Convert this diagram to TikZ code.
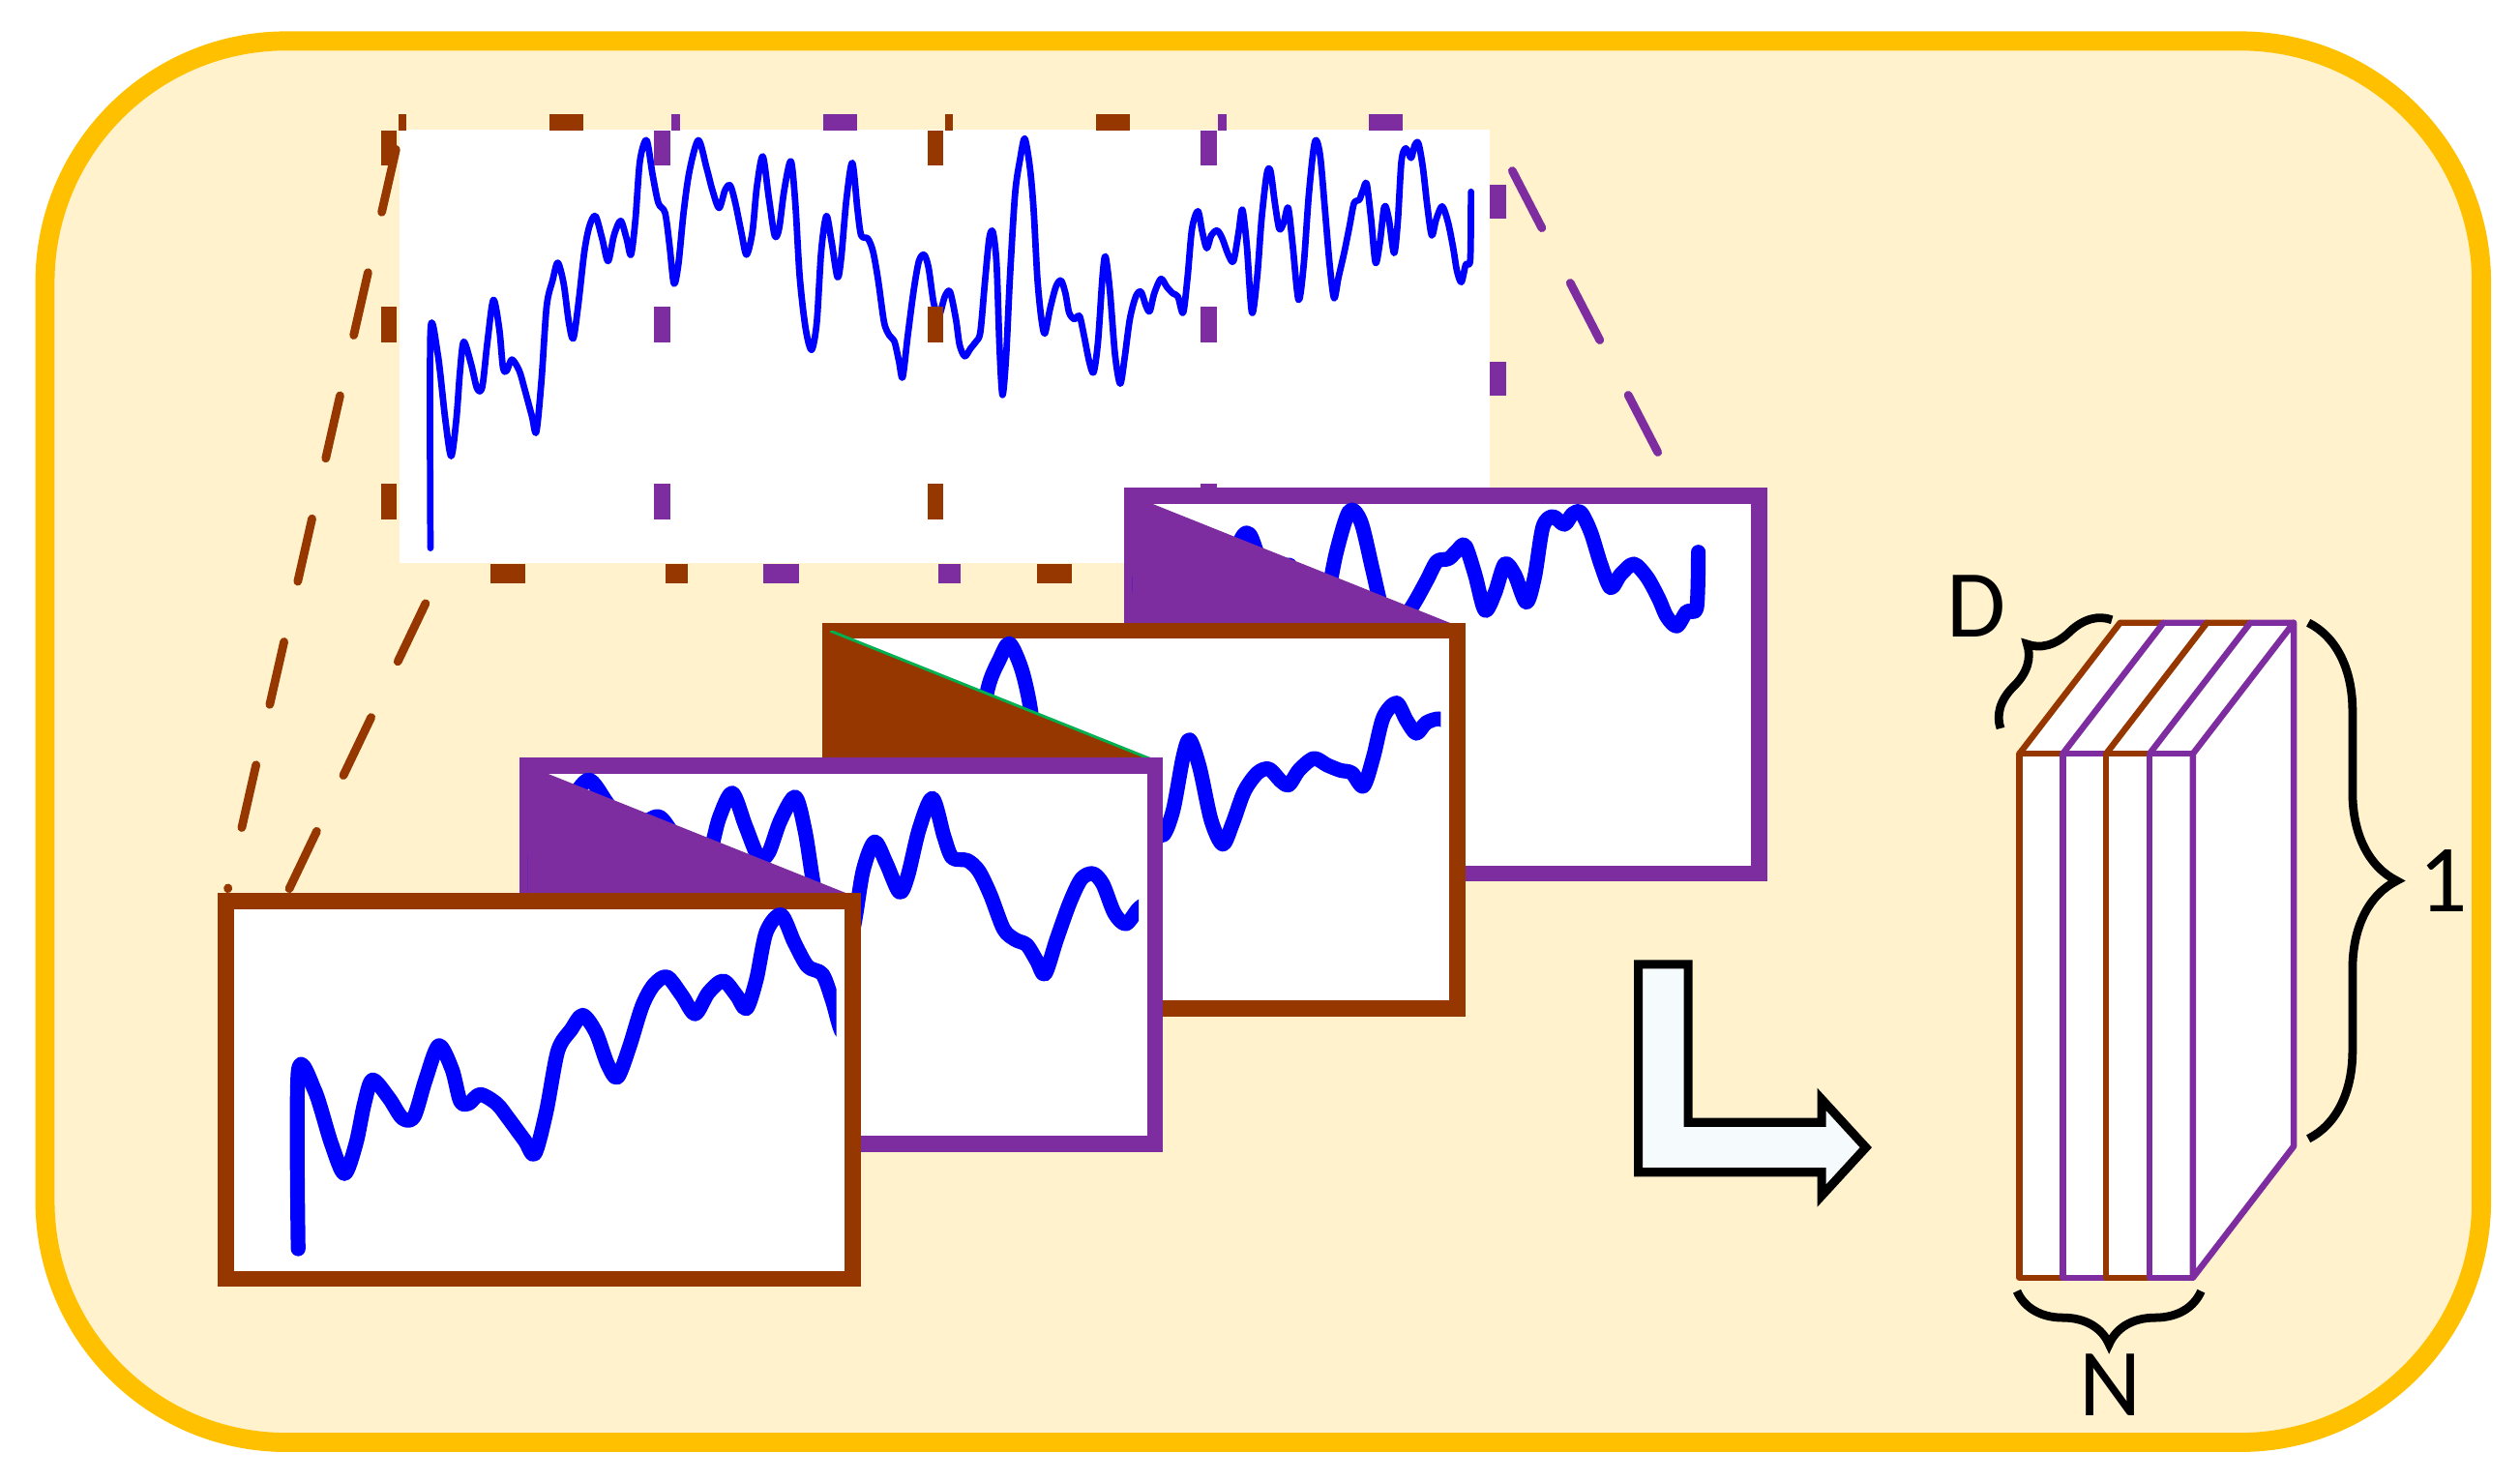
\documentclass[tikz,border=0pt]{standalone}
\usepackage{fontspec}
\setmainfont{Carlito}
\usetikzlibrary{decorations.pathreplacing}
\definecolor{bgyellow}{RGB}{255,242,204}
\definecolor{boxgold}{RGB}{255,192,0}
\definecolor{rust}{RGB}{150,55,0}
\definecolor{plum}{RGB}{125,45,160}
\definecolor{foldgreen}{RGB}{0,176,80}
\definecolor{arrowfill}{RGB}{245,250,253}
\tikzstyle{outerbox} = [rounded corners=1.5cm, draw=boxgold, fill=bgyellow, line width=3.4pt]
\tikzstyle{plotarea} = [rectangle, fill=white, inner sep=0pt, minimum width=6.78cm, minimum height=2.69cm]
\tikzstyle{slidebox} = [rectangle, fill=white, line width=2.85pt, inner sep=0pt, minimum width=3.9cm, minimum height=2.35cm, anchor=north west]
\tikzstyle{wave} = [draw=blue, line width=1.15pt, line join=round, line cap=round]
\tikzstyle{zoomwave} = [draw=blue, line width=2.6pt, line join=round, line cap=round]
\tikzstyle{proj} = [line width=1.5pt, line cap=round, dash pattern=on 4mm off 3.85mm]
\tikzstyle{slab} = [line width=1.1pt, line join=round]
\tikzstyle{bentarrow} = [draw=black, fill=arrowfill, line width=1.55pt, line join=miter]
\tikzstyle{dimbrace} = [decorate, line width=1.5pt]
\tikzstyle{dimlabel} = [inner sep=0pt, font=\fontsize{17}{20}\selectfont]
\newcommand{\sigline}{plot[smooth, tension=0.5] coordinates {(85,1400) (85,730) (95,800) (105,1000) (113,1115) (120,1000) (125,850) (130,760) (140,830) (148,905) (155,900) (162,760) (170,630) (178,720) (183,840) (188,850) (195,815) (205,850) (212,905) (222,990) (228,1040) (235,880) (242,650) (250,570) (257,515) (265,580) (272,700) (278,750) (285,640) (293,480) (300,400) (308,370) (317,440) (325,510) (333,430) (342,385) (350,440) (356,490) (362,380) (368,200) (377,135) (385,240) (393,330) (402,360) (408,460) (414,580) (420,520) (427,360) (435,230) (447,135) (458,220) (466,290) (475,345) (483,290) (490,275) (497,330) (505,420) (512,490) (520,420) (526,280) (534,185) (542,310) (550,430) (556,410) (563,290) (572,200) (578,330) (584,560) (592,720) (600,785) (607,700) (613,480) (620,370) (627,450) (635,560) (640,500) (647,320) (655,205) (662,350) (667,430) (676,440) (683,480) (690,570) (698,700) (705,740) (712,760) (718,820) (723,870) (730,740) (738,600) (745,510) (752,490) (758,530) (765,640) (772,680) (780,620) (787,605) (795,690) (800,770) (807,805) (815,780) (822,760) (828,730) (834,580) (840,440) (845,420) (850,520) (854,780) (858,925) (863,800) (868,560) (875,300) (882,190) (888,130) (895,220) (900,350) (905,560) (910,680) (915,735) (922,660) (930,590) (937,570) (943,610) (948,670) (955,690) (962,680) (968,740) (975,820) (981,855) (987,760) (993,560) (997,495) (1003,600) (1010,800) (1017,890) (1023,810) (1030,690) (1038,620) (1045,605) (1052,650) (1057,665) (1063,610) (1072,565) (1080,590) (1088,610) (1095,620) (1102,670) (1108,560) (1114,410) (1122,355) (1128,420) (1134,470) (1140,430) (1148,415) (1155,440) (1163,490) (1170,510) (1177,420) (1182,350) (1188,460) (1195,670) (1202,560) (1208,380) (1215,240) (1220,230) (1226,330) (1232,410) (1238,390) (1244,345) (1250,460) (1258,630) (1265,520) (1272,300) (1280,140) (1287,180) (1294,360) (1300,520) (1306,625) (1312,560) (1320,480) (1327,400) (1333,330) (1340,320) (1345,290) (1350,270) (1356,380) (1362,515) (1368,450) (1374,340) (1380,380) (1387,485) (1392,390) (1397,200) (1403,160) (1410,190) (1415,150) (1420,145) (1426,220) (1432,340) (1438,430) (1444,380) (1452,340) (1460,390) (1467,470) (1472,540) (1478,575) (1484,520) (1490,505) (1491,295)}}

\begin{document}
\begin{tikzpicture}[x=0.01cm, y=-0.01cm]
\useasboundingbox (0,0) rectangle (1568,922);
\draw[outerbox] (28,25.5) rectangle (1544,897.5);

\node[plotarea] (plot) at (587.5,215.5) {};
\begin{scope}[shift={(228.7,60.19)}, xscale=0.4605, yscale=0.2006]
\draw[wave] \sigline;
\end{scope}

\foreach \i/\col in {0/rust,1/plum,2/rust,3/plum} {
  \begin{scope}[shift={(\i*170,0)}]
    \foreach \y in {81,191,301} \fill[\col] (237,\y) rectangle (247,\y+22);
    \fill[\col] (248,71) rectangle (253,81);
    \fill[\col] (342,71) rectangle (363,81);
    \fill[\col] (305,351) rectangle (327,363);
    \fill[\col] (414,351) rectangle (428,363);
  \end{scope}
}
\foreach \y in {115,225} \fill[plum] (927,\y) rectangle (937,\y+21);

\coordinate (winA) at (246.4,93);
\coordinate (winB) at (264.8,375.5);
\coordinate (winD) at (941,106.3);
\coordinate (slideA) at (141.8,553);
\coordinate (slideB) at (180,553);
\coordinate (slideD) at (1040.6,299);
\draw[proj, rust] (winA) -- (slideA);
\draw[proj, rust] (winB) -- (slideB);
\draw[proj, plum] (winD) -- (slideD);

\foreach \i/\col in {3/plum,2/rust,1/plum,0/rust} {
  \node[slidebox, draw=\col] (slide\i) at ({135.5+188*\i},{555.5-84*\i}) {};
  \begin{scope}
    \clip ({140.5+188*\i},{560.5-84*\i}) rectangle ({520.5+188*\i},{785.5-84*\i});
    \begin{scope}[shift={({-413.1-191.95*\i},{497.8-84*\i})}, xscale=2.235, yscale=0.819]
      \begin{scope}[shift={(228.7,60.19)}, xscale=0.4605, yscale=0.2006]
        \draw[zoomwave] \sigline;
      \end{scope}
    \end{scope}
    \ifnum\i>0
      \fill[\col] ({140.5+188*\i},{560.5-84*\i}) -- ({339.25+188*\i},{640-84*\i}) -- ({140.5+188*\i},{640-84*\i}) -- cycle;
    \fi
    \ifnum\i=2
      \draw[foldgreen, line width=0.5pt] ({140.5+188*\i},{560.5-84*\i}) -- ({339.25+188*\i},{640-84*\i});
    \fi
  \end{scope}
}

\draw[bentarrow] (1019.4,600) -- (1050.4,600) -- (1050.4,698.4) -- (1133.5,698.4) -- (1133.5,684) -- (1161,714) -- (1133.5,744) -- (1133.5,729.4) -- (1019.4,729.4) -- cycle;

\fill[white] (1256.5,469) -- (1319.2,387.5) -- (1427.2,387.5) -- (1427.2,713.3) -- (1364.5,795) -- (1256.5,795) -- cycle;
\foreach \k/\col in {0/rust,1/plum,2/rust,3/plum} {
  \draw[slab, \col] ({1283.5+27*\k},795) -- ({1256.5+27*\k},795) -- ({1256.5+27*\k},469) -- ({1283.5+27*\k},469);
  \draw[slab, \col] ({1256.5+27*\k},469) -- ({1319.2+27*\k},387.5) -- ({1346.2+27*\k},387.5);
}
\draw[slab, plum] (1364.5,795) -- (1364.5,469) -- (1427.2,387.5) -- (1427.2,713.3) -- cycle;

\draw[dimbrace, decoration={brace, amplitude=2.6mm}] (1244.8,453.2) -- (1314.1,385.7);
\draw[dimbrace, decoration={brace, amplitude=5.5mm}] (1436.3,387.5) -- (1436.3,708.6);
\draw[dimbrace, decoration={brace, amplitude=3.3mm}] (1369.6,803.4) -- (1255,803.4);
\node[dimlabel] (depth) at (1230,377) {D};
\node[dimlabel] (height) at (1520,548) {1};
\node[dimlabel] (count) at (1313,862) {N};
\end{tikzpicture}
\end{document}
